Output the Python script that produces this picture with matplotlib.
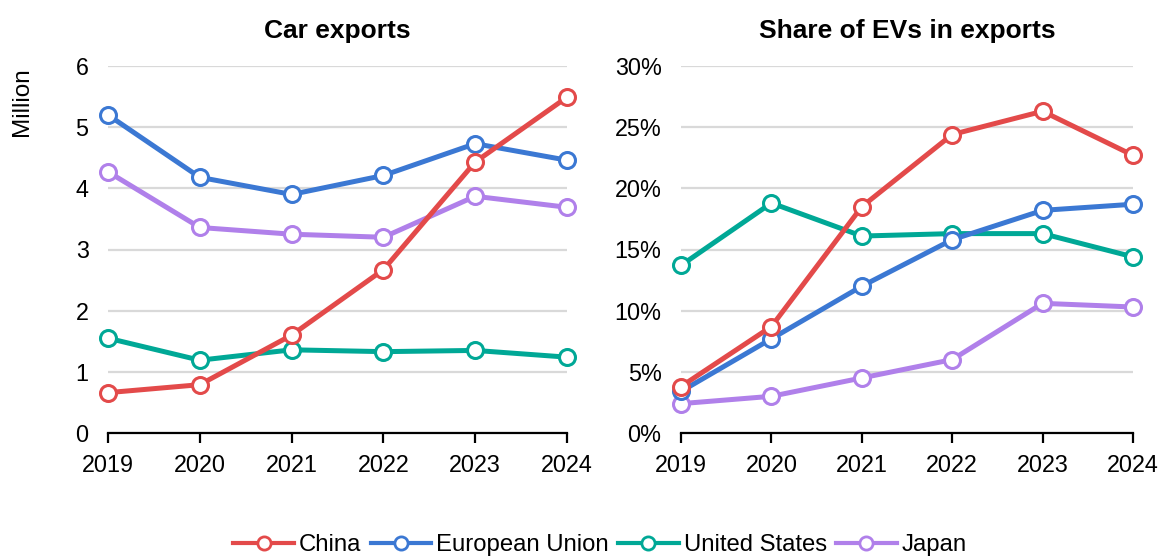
import matplotlib
matplotlib.use("Agg")
import matplotlib.pyplot as plt
from matplotlib.lines import Line2D
from matplotlib.ticker import FuncFormatter

plt.rcParams['font.family'] = ['Liberation Sans', 'DejaVu Sans']

years = [2019, 2020, 2021, 2022, 2023, 2024]

# Car exports, million units
exports_china = [0.66, 0.79, 1.60, 2.67, 4.43, 5.49]
exports_eu = [5.20, 4.18, 3.90, 4.21, 4.73, 4.46]
exports_us = [1.55, 1.19, 1.36, 1.33, 1.35, 1.24]
exports_japan = [4.27, 3.36, 3.25, 3.20, 3.87, 3.69]

# Share of EVs in exports, percent
ev_china = [3.8, 8.7, 18.5, 24.4, 26.3, 22.7]
ev_eu = [3.4, 7.7, 12.0, 15.8, 18.2, 18.7]
ev_us = [13.7, 18.8, 16.1, 16.3, 16.3, 14.4]
ev_japan = [2.4, 3.0, 4.5, 6.0, 10.6, 10.3]

names = ["China", "European Union", "United States", "Japan"]
colors = ["#E34A4A", "#3B78D3", "#00A896", "#B080EA"]

TICK_FS = 16.8

fig = plt.figure(figsize=(11.61, 5.57), dpi=100)
ax1 = fig.add_axes([108 / 1161, 1 - 433 / 557, 459 / 1161, 367 / 557])
ax2 = fig.add_axes([681 / 1161, 1 - 433 / 557, 452 / 1161, 367 / 557])

left_series = [exports_china, exports_eu, exports_us, exports_japan]
right_series = [ev_china, ev_eu, ev_us, ev_japan]


def draw(ax, series):
    for i, (vals, c, n) in enumerate(zip(series, colors, names)):
        ax.plot(years, vals, color=c, lw=3.6, marker="o", ms=11.5,
                mfc="white", mec=c, mew=2.2, label=n,
                zorder=10 - i, clip_on=False)
    ax.set_xlim(2019, 2024)
    ax.set_xticks(years)
    for s in ["left", "right", "top"]:
        ax.spines[s].set_visible(False)
    ax.spines["bottom"].set_color("black")
    ax.spines["bottom"].set_linewidth(1.6)
    ax.spines["bottom"].set_zorder(1)
    ax.grid(axis="y", color="#D9D9D9", lw=1.6)
    ax.set_axisbelow(True)
    ax.tick_params(axis="x", direction="out", length=7, width=1.6,
                   labelsize=TICK_FS, pad=8)
    ax.tick_params(axis="y", length=0, labelsize=TICK_FS, pad=14)


draw(ax1, left_series)
ax1.set_ylim(0, 6)
ax1.set_yticks(range(0, 7))
ax1.set_title("Car exports", fontsize=19, fontweight="bold", pad=20)

draw(ax2, right_series)
ax2.set_ylim(0, 30)
ax2.set_yticks(range(0, 31, 5))
ax2.yaxis.set_major_formatter(FuncFormatter(lambda v, p: f"{v:.0f}%"))
ax2.set_title("Share of EVs in exports", fontsize=19, fontweight="bold", pad=20)

fig.text(22 / 1161, 1 - 102 / 557, "Million", rotation=90, fontsize=17.5,
         ha="center", va="center")

legend_handles = [Line2D([], [], color=c, lw=3.0, marker="o", ms=9.5,
                         mfc="white", mec=c, mew=2.0) for c in colors]
fig.legend(handles=legend_handles, labels=names, loc="center",
           bbox_to_anchor=(600 / 1161, 1 - 545 / 557), ncol=4, frameon=False,
           fontsize=17.2, handlelength=2.55, handletextpad=0.2,
           columnspacing=0.38, borderaxespad=0, borderpad=0)

fig.savefig("out.png", dpi=100)
